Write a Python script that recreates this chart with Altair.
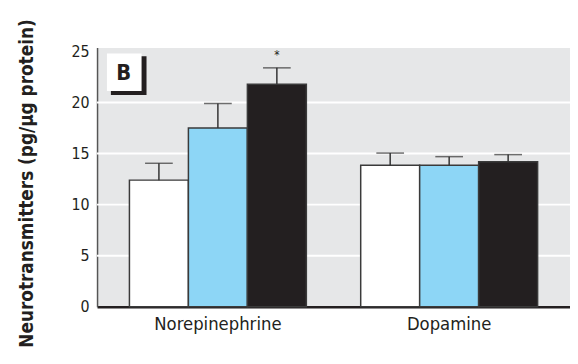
import altair as alt
import pandas as pd

# ---- data ----
transmitters = ["Norepinephrine", "Dopamine"]
groups = ["Control", "Low dose", "High dose"]
group_colors = ["#ffffff", "#8dd6f6", "#231f20"]
ne_means = [12.4, 17.5, 21.8]
ne_upper = [14.05, 19.9, 23.4]
da_means = [13.85, 13.85, 14.2]
da_upper = [15.05, 14.7, 14.9]
ne_significant = [False, False, True]
da_significant = [False, False, False]
y_ticks = [0, 5, 10, 15, 20, 25]
grid_values = [5, 10, 15, 20]
panel_label = "B"
y_title = "Neurotransmitters (pg/\u03bcg protein)"

rows = []
for t, ms, us, sig in [
    ("Norepinephrine", ne_means, ne_upper, ne_significant),
    ("Dopamine", da_means, da_upper, da_significant),
]:
    for g, m, u, s in zip(groups, ms, us, sig):
        rows.append({"transmitter": t, "group": g, "mean": m, "upper": u, "sig": s})
df = pd.DataFrame(rows)
grid_df = pd.DataFrame({"v": grid_values})
label_df = pd.DataFrame({"label": [panel_label]})

FONT = "DejaVu Sans Condensed, Liberation Sans Narrow, sans-serif"
INK = "#231f20"

yscale = alt.Scale(domain=[0, 25.4], nice=False)
yaxis = alt.Axis(values=y_ticks, grid=False, ticks=False,
                 domainColor="#555555", domainWidth=1.5,
                 labelFont=FONT, labelFontSize=16, labelColor=INK,
                 labelPadding=8, title=y_title, titleFont=FONT,
                 titleFontSize=19, titleFontWeight="bold",
                 titleColor=INK, titleX=-61, titleY=137)
xscale = alt.Scale(paddingInner=0.235, paddingOuter=0.14)
xenc = alt.X(
    "transmitter:N", sort=transmitters, scale=xscale,
    axis=alt.Axis(title=None, ticks=False, domainColor=INK, domainWidth=2.5,
                  labelFont=FONT, labelFontSize=18.5, labelColor=INK,
                  labelPadding=8, labelAngle=0),
)
xoff = alt.XOffset("group:N", sort=groups,
                   scale=alt.Scale(paddingInner=0, paddingOuter=0))

grid = alt.Chart(grid_df).mark_rule(color="white", strokeWidth=2).encode(
    y=alt.Y("v:Q", scale=yscale, axis=yaxis)
)

bars = alt.Chart(df).mark_bar(stroke="#3a3a3a", strokeWidth=1.5).encode(
    x=xenc,
    xOffset=xoff,
    y=alt.Y("mean:Q", scale=yscale, axis=yaxis),
    color=alt.Color("group:N", sort=groups,
                    scale=alt.Scale(domain=groups, range=group_colors),
                    legend=None),
)

err = alt.Chart(df).mark_rule(color="#333333", strokeWidth=1.5).encode(
    x=xenc, xOffset=xoff, y=alt.Y("mean:Q", scale=yscale, axis=yaxis), y2="upper:Q"
)
caps = alt.Chart(df).mark_tick(color="#333333", thickness=1.5, size=28).encode(
    x=xenc, xOffset=xoff, y=alt.Y("upper:Q", scale=yscale, axis=yaxis)
)
star = alt.Chart(df).transform_filter("datum.sig").mark_text(
    text="*", dy=-13, fontSize=12, font=FONT, color=INK
).encode(x=xenc, xOffset=xoff, y=alt.Y("upper:Q", scale=yscale, axis=yaxis))

shadow = alt.Chart(label_df).mark_rect(color=INK).encode(
    x=alt.value(14), x2=alt.value(50), y=alt.value(9), y2=alt.value(48)
)
box = alt.Chart(label_df).mark_rect(color="white").encode(
    x=alt.value(10), x2=alt.value(45), y=alt.value(6), y2=alt.value(44)
)
btext = alt.Chart(label_df).mark_text(
    font=FONT, fontSize=22, fontWeight="bold", color=INK
).encode(text="label:N", x=alt.value(27), y=alt.value(26))

chart = alt.layer(grid, bars, err, caps, star, shadow, box, btext).properties(
    width=478, height=262,
    padding={"left": 90, "top": 38, "right": 0, "bottom": 50},
    autosize=alt.AutoSizeParams(type="none"),
).configure_view(fill="#e6e7e8", strokeOpacity=0)

chart.save("out.html", embed_options={"renderer": "svg", "actions": False})
